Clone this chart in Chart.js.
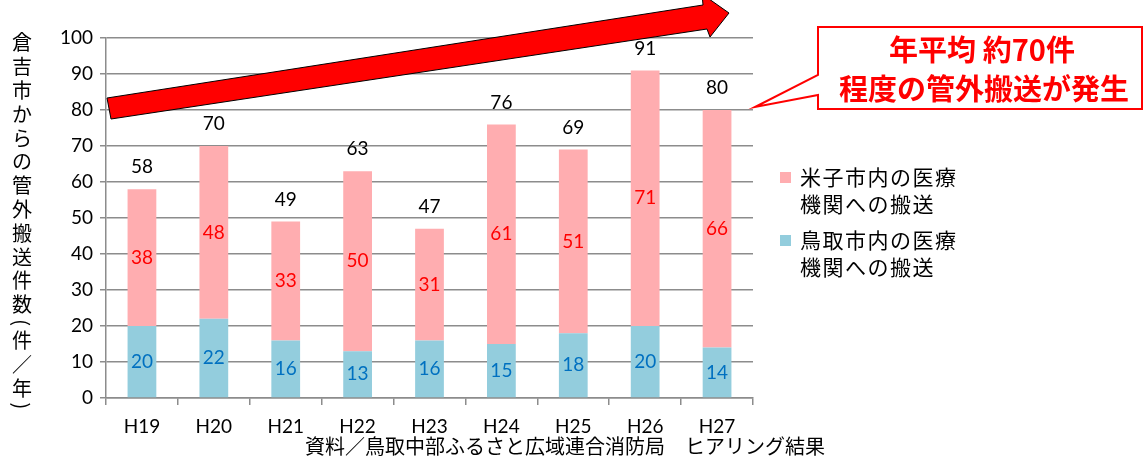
<!DOCTYPE html>
<html lang="ja">
<head>
<meta charset="utf-8">
<script src="https://cdn.jsdelivr.net/npm/chart.js@4.4.1/dist/chart.umd.min.js"></script>
<style>
  body { margin: 0; background: #fff; }
  #wrap { position: relative; width: 1146px; height: 458px; overflow: hidden; font-family: "Noto Sans CJK JP", sans-serif; }
  #legend { position: absolute; left: 780px; top: 163px; font-size: 21px; letter-spacing: 1.5px; color: #000; }
  .item { position: relative; padding-left: 20px; line-height: 27px; margin-bottom: 9px; }
  .box { position: absolute; left: 0; top: 9px; width: 11px; height: 11px; }
  #source { position: absolute; left: 0; width: 1130px; text-align: center; top: 434px; font-size: 20px; line-height: 24px; color: #000; }
</style>
</head>
<body>
<div id="wrap">
  <canvas id="transferChart"></canvas>
  <div id="legend"></div>
  <div id="source">資料／鳥取中部ふるさと広域連合消防局　ヒアリング結果</div>
</div>
<script>
// Data
const yearLabels = ['H19', 'H20', 'H21', 'H22', 'H23', 'H24', 'H25', 'H26', 'H27'];
const tottoriValues = [20, 22, 16, 13, 16, 15, 18, 20, 14];
const yonagoValues = [38, 48, 33, 50, 31, 61, 51, 71, 66];
const seriesNames = ['鳥取市内の医療\n機関への搬送', '米子市内の医療\n機関への搬送'];
const yMax = 100;
const yStep = 10;
const yTitle = '倉吉市からの管外搬送件数（件／年）';
const calloutLines = ['年平均 約70件', '程度の管外搬送が発生'];

const numFont = 'Lato, "Noto Sans CJK JP", sans-serif';
const jpFont = '"Noto Sans CJK JP", sans-serif';

// Value labels inside the bars and totals on top
const valueLabels = {
    id: 'valueLabels',
    afterDatasetsDraw(chart) {
        const ctx = chart.ctx;
        const blue = chart.getDatasetMeta(0).data;
        const pink = chart.getDatasetMeta(1).data;
        ctx.save();
        ctx.font = '19px ' + numFont;
        ctx.textAlign = 'center';
        ctx.textBaseline = 'middle';
        yearLabels.forEach((_, i) => {
            const b = blue[i], p = pink[i];
            ctx.fillStyle = '#0070c0';
            ctx.fillText(tottoriValues[i], b.x, (b.y + b.base) / 2);
            ctx.fillStyle = '#ff0000';
            ctx.fillText(yonagoValues[i], p.x, (p.y + p.base) / 2);
            ctx.fillStyle = '#000';
            ctx.fillText(tottoriValues[i] + yonagoValues[i], p.x, p.y - 22);
        });
        ctx.restore();
    }
};

// Vertical axis title, one character per line (parens turned sideways)
const halfParens = { '（': '(', '）': ')' };
const verticalTitle = {
    id: 'verticalTitle',
    afterDraw(chart) {
        const ctx = chart.ctx;
        ctx.save();
        ctx.font = '20px ' + jpFont;
        ctx.fillStyle = '#000';
        ctx.textAlign = 'center';
        ctx.textBaseline = 'middle';
        let cursor = 31;
        for (const ch of yTitle) {
            const isParen = ch in halfParens;
            const h = isParen ? 12 : 23.8;
            const cy = cursor + h / 2;
            if (isParen) {
                ctx.save();
                ctx.translate(22, cy);
                ctx.rotate(Math.PI / 2);
                ctx.fillText(halfParens[ch], 0, 0);
                ctx.restore();
            } else {
                ctx.fillText(ch, 22, cy);
            }
            cursor += h;
        }
        ctx.restore();
    }
};

// Trend arrow and callout box
const decorations = {
    id: 'decorations',
    afterDraw(chart) {
        const ctx = chart.ctx;
        ctx.save();
        // arrow
        const pts = [[111, 119], [107, 98], [703, 5], [702, -6], [729, 13], [710, 37], [707, 29]];
        ctx.beginPath();
        pts.forEach((p, i) => i ? ctx.lineTo(p[0], p[1]) : ctx.moveTo(p[0], p[1]));
        ctx.closePath();
        ctx.fillStyle = '#ff0000';
        ctx.fill();
        ctx.strokeStyle = '#000';
        ctx.lineWidth = 1;
        ctx.stroke();

        // callout
        ctx.beginPath();
        ctx.moveTo(818, 27);
        ctx.lineTo(1142, 27);
        ctx.lineTo(1142, 109);
        ctx.lineTo(818, 109);
        ctx.lineTo(818, 95);
        ctx.lineTo(755, 107);
        ctx.lineTo(818, 75);
        ctx.closePath();
        ctx.fillStyle = '#fff';
        ctx.fill();
        ctx.strokeStyle = '#ff0000';
        ctx.lineWidth = 2;
        ctx.stroke();

        ctx.fillStyle = '#ff0000';
        ctx.font = 'bold 29px ' + jpFont;
        ctx.textAlign = 'center';
        ctx.textBaseline = 'middle';
        ctx.fillText(calloutLines[0], 982, 50);
        ctx.fillText(calloutLines[1], 984, 89);
        ctx.restore();
    }
};

const datasets = [{
    label: seriesNames[0],
    data: tottoriValues,
    backgroundColor: '#93cddd'
}, {
    label: seriesNames[1],
    data: yonagoValues,
    backgroundColor: '#ffadb0'
}];

const chart = new Chart(document.getElementById('transferChart'), {
    type: 'bar',
    data: { labels: yearLabels, datasets: datasets },
    options: {
        responsive: true,
        maintainAspectRatio: false,
        animation: false,
        layout: { padding: { top: 38, right: 393, left: 50, bottom: 15 } },
        datasets: { bar: { categoryPercentage: 1, barPercentage: 0.4 } },
        plugins: {
            legend: { display: false },
            tooltip: { enabled: false }
        },
        scales: {
            x: {
                stacked: true,
                afterFit: s => { s.height = 45; },
                border: { color: '#8c8c8c', width: 1.5 },
                grid: { offset: true, drawOnChartArea: false, drawTicks: true, tickLength: 7, color: '#8c8c8c', lineWidth: 1.5 },
                ticks: { color: '#000', font: { family: numFont, size: 19 }, padding: 10 }
            },
            y: {
                stacked: true,
                min: 0,
                max: yMax,
                afterFit: s => { s.width = 56; },
                border: { color: '#8c8c8c', width: 1.5 },
                grid: { color: '#8c8c8c', lineWidth: 1.5, tickLength: 6 },
                ticks: { stepSize: yStep, color: '#000', font: { family: numFont, size: 19 }, padding: 7 }
            }
        }
    },
    plugins: [valueLabels, verticalTitle, decorations]
});

// HTML legend (top series first)
const legendEl = document.getElementById('legend');
datasets.slice().reverse().forEach(ds => {
    const item = document.createElement('div');
    item.className = 'item';
    item.innerHTML = '<span class="box" style="background:' + ds.backgroundColor + '"></span>' +
        ds.label.split('\n').join('<br>');
    legendEl.appendChild(item);
});
</script>
</body>
</html>
